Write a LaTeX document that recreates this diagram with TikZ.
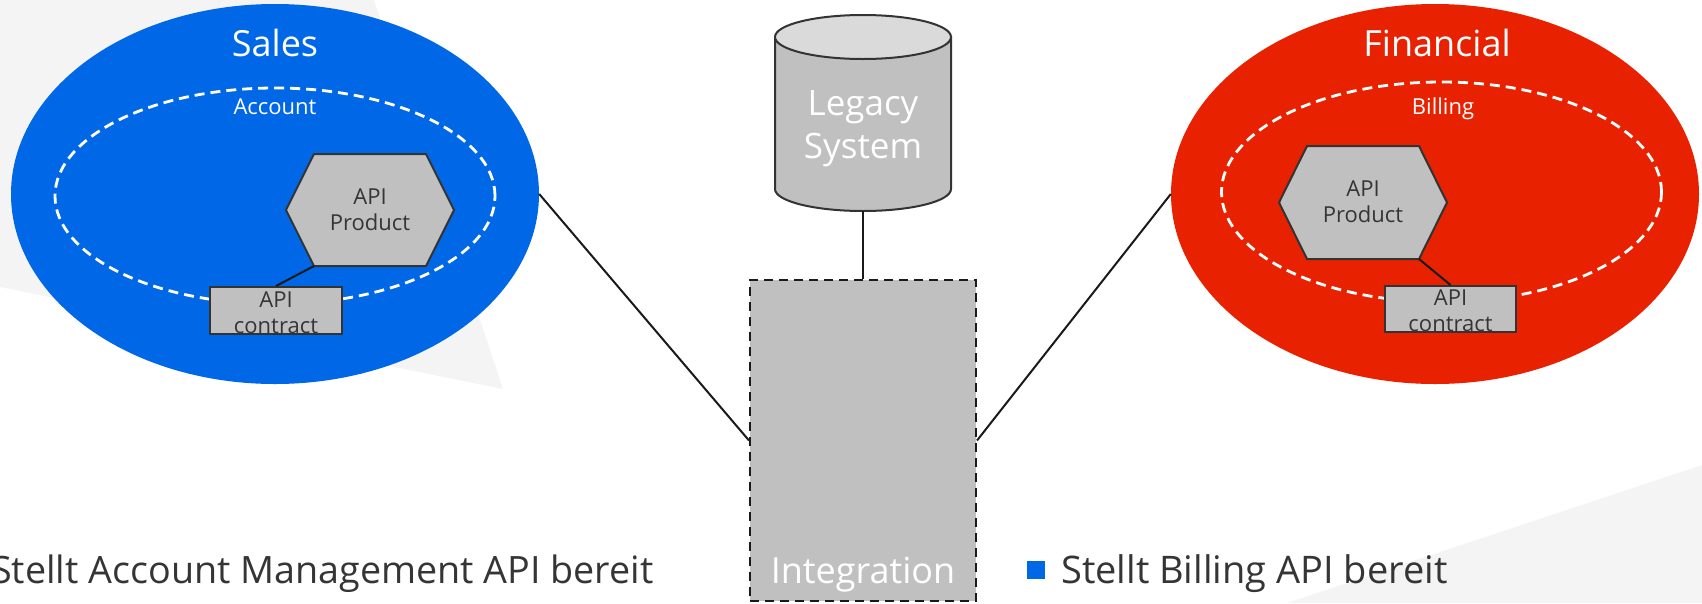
\documentclass[tikz,border=0pt]{standalone}
\usepackage{fontspec}
\setmainfont{Open Sans}
\usetikzlibrary{shapes.geometric}
\definecolor{salesblue}{HTML}{0067E6}
\definecolor{finred}{HTML}{E82100}
\definecolor{shapegray}{HTML}{C0C0C0}
\definecolor{topgray}{HTML}{DADADA}
\definecolor{bggray}{HTML}{F4F4F4}
\definecolor{edgecol}{HTML}{333333}
\definecolor{txtcol}{HTML}{353535}
\definecolor{linecol}{HTML}{1A1A1A}
\begin{document}
\begin{tikzpicture}[x=1pt,y=-1pt,
  domainshape/.style={ellipse, draw=none, inner sep=0pt},
  ctxshape/.style={ellipse, draw=white, line width=2.8pt, dash pattern=on 10pt off 6pt, inner sep=0pt},
  shapebox/.style={draw=edgecol, line width=2pt, fill=shapegray},
  conn/.style={draw=linecol, line width=2pt},
  lbl/.style={inner sep=0pt, align=center},
  bigfont/.style={font=\fontsize{36}{42}\selectfont},
  smallfont/.style={font=\fontsize{22}{26}\selectfont},
  bodyfont/.style={font=\fontsize{38}{44}\selectfont},
]
\useasboundingbox (0,0) rectangle (1702,603);
% background decorations
\fill[bggray] (0,0) -- (374,0) -- (503,389) -- (0,287) -- cycle;
\fill[bggray] (1287,603) -- (1702,465) -- (1702,603) -- cycle;

% Sales domain
\node[domainshape, fill=salesblue, minimum width=528pt, minimum height=380pt] (sales) at (275,194) {};
\node[ctxshape, minimum width=440pt, minimum height=216pt] (account) at (275,196) {};
\node[lbl, bigfont, text=white] (saleslbl) at (275,43) {Sales};
\node[lbl, smallfont, text=white] (accountlbl) at (275,107) {Account};
\draw[shapebox] (286,210) -- (314,154) -- (426,154) -- (454,210) -- (426,266) -- (314,266) coordinate (hexSbl) -- cycle;
\node[lbl, smallfont, text=txtcol] (hexS) at (370,210) {API\\Product};
\node[shapebox, minimum width=132pt, minimum height=47pt, inner sep=0pt] (conS) at (276,310.5) {};
\draw[conn] (hexSbl) -- (conS.north);
\node[lbl, smallfont, text=txtcol] (conStxt) at (276,313) {API\\contract};

% Financial domain
\node[domainshape, fill=finred, minimum width=528pt, minimum height=380pt] (fin) at (1435,194) {};
\node[ctxshape, minimum width=440pt, minimum height=220pt] (billing) at (1441.5,192) {};
\node[lbl, bigfont, text=white] (finlbl) at (1437,43) {Financial};
\node[lbl, smallfont, text=white] (billinglbl) at (1443,109) {Billing};
\draw[shapebox] (1279,202.5) -- (1307,146) -- (1419,146) -- (1447,202.5) -- (1419,259) coordinate (hexFbr) -- (1307,259) -- cycle;
\node[lbl, smallfont, text=txtcol] (hexF) at (1363,202) {API\\Product};
\node[shapebox, minimum width=131pt, minimum height=46pt, inner sep=0pt] (conF) at (1450.5,309) {};
\draw[conn] (hexFbr) -- (conF.north);
\node[lbl, smallfont, text=txtcol] (conFtxt) at (1450.5,311) {API\\contract};

% Legacy system cylinder
\path[shapebox] (775,37) -- (775,189) arc[start angle=180, end angle=360, x radius=88pt, y radius=22pt] -- (951,37) -- cycle;
\draw[draw=edgecol, line width=2pt, fill=topgray] (863,37) ellipse [x radius=88pt, y radius=22pt];
\coordinate (legacybottom) at (863,211);
\node[lbl, text=white, font=\fontsize{35}{43}\selectfont] (legacy) at (863,129) {Legacy\\System};

% Integration
\node[draw=linecol, line width=2pt, dash pattern=on 9pt off 6pt, fill=shapegray, minimum width=226pt, minimum height=321pt, inner sep=0pt] (integ) at (863,440.5) {};
\node[anchor=base, inner sep=0pt, bigfont, text=white] (integlbl) at (863,583) {Integration};

% connectors
\draw[conn] (legacybottom) -- (integ.north);
\draw[conn] (sales.east) -- (integ.west);
\draw[conn] (fin.west) -- (integ.east);

% bottom texts
\node[anchor=base west, inner sep=0pt, font=\fontsize{37.7}{44}\selectfont, text=txtcol] (txtleft) at (-9,583) {Stellt Account Management API bereit};
\node[fill=salesblue, minimum size=18pt, inner sep=0pt] (bullet) at (1036,570) {};
\node[anchor=base west, inner sep=0pt, bodyfont, text=txtcol] (txtright) at (1061,583) {Stellt Billing API bereit};
\end{tikzpicture}
\end{document}
